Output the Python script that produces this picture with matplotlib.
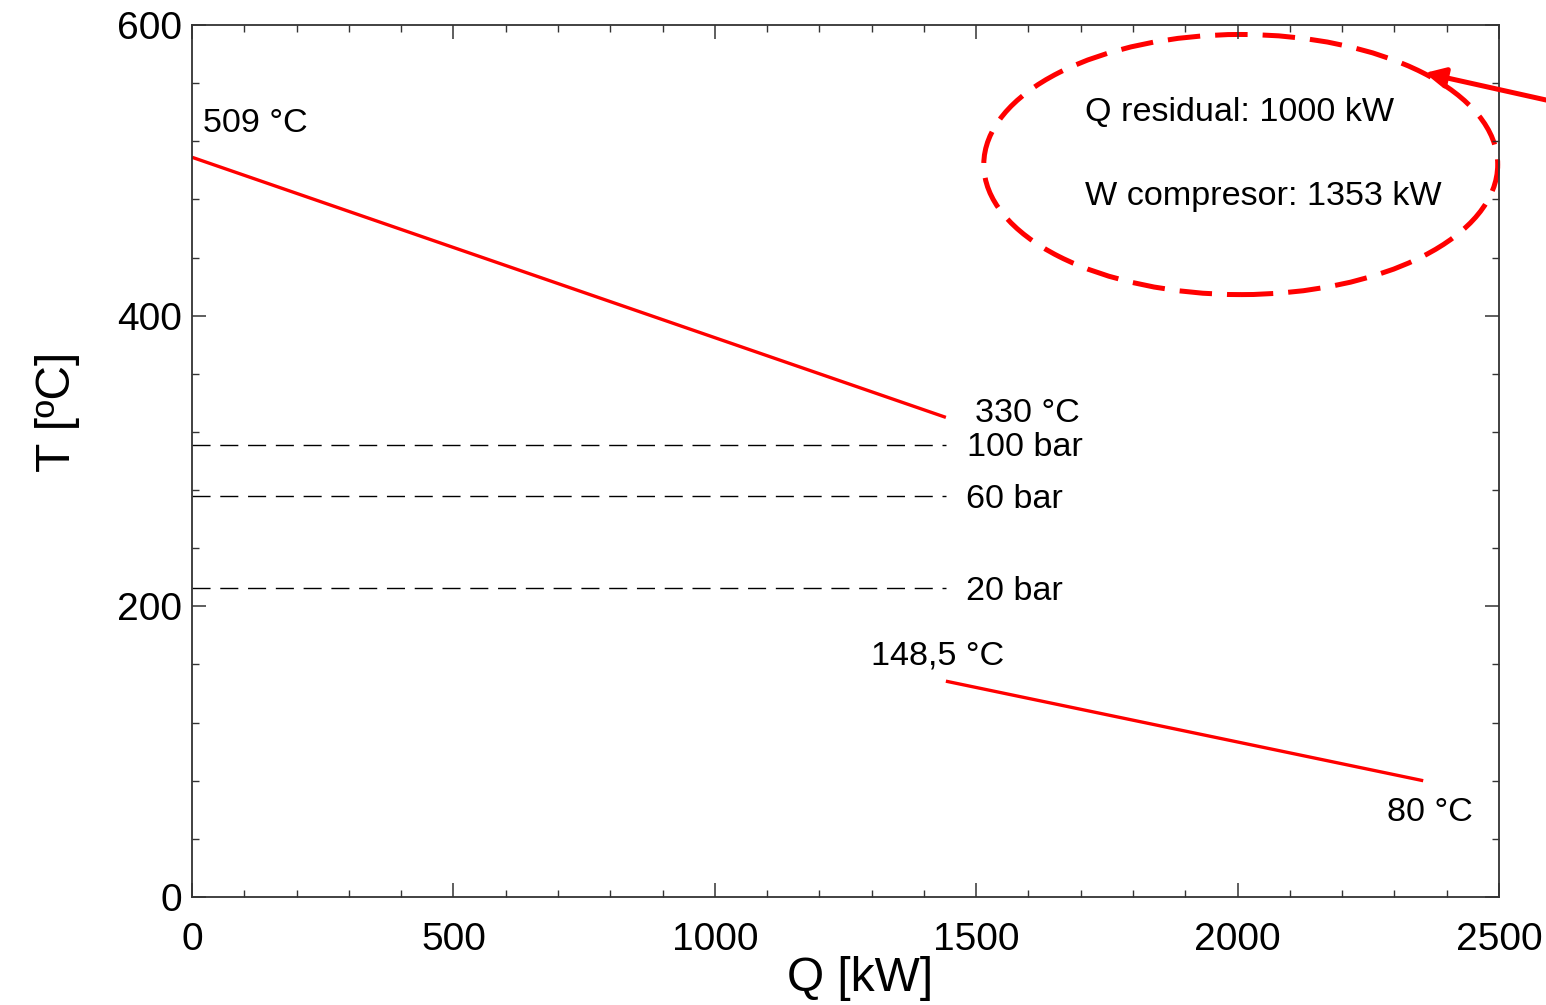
import matplotlib.pyplot as plt
from matplotlib.patches import Ellipse
from matplotlib.ticker import MultipleLocator

plt.rcParams['font.family'] = ['Liberation Sans', 'DejaVu Sans']

# gas cooling line (hot side) and water heating line
q_hot = [0, 1442]
t_hot = [509, 330]
q_cold = [1442, 2355]
t_cold = [148.5, 80]

# saturation temperatures at the pressure levels
sat_labels = ['100 bar', '60 bar', '20 bar']
sat_temps = [311, 275.6, 212.4]
sat_q_end = 1442

fig = plt.figure(figsize=(15.46, 10.05), dpi=100)
ax = fig.add_axes([0.1242, 0.1075, 0.8454, 0.8676])

ax.plot(q_hot, t_hot, color='red', lw=2.4, solid_capstyle='butt')
ax.plot(q_cold, t_cold, color='red', lw=2.4, solid_capstyle='butt')
for t in sat_temps:
    ax.plot([0, sat_q_end], [t, t], color='black', lw=1.0, dashes=(13, 7))

fs = 24.6
ax.text(21, 532, '509 °C', fontsize=fs, va='center')
ax.text(1498, 333, '330 °C', fontsize=fs, va='center')
for lab, t in zip(sat_labels, sat_temps):
    ax.text(1482 if lab == '100 bar' else 1480, t - 2, lab, fontsize=fs, va='center')
ax.text(1299, 166, '148,5 °C', fontsize=fs, va='center')
ax.text(2286, 58, '80 °C', fontsize=fs, va='center')
ax.text(1708, 539.5, 'Q residual: 1000 kW', fontsize=fs, va='center')
ax.text(1708, 482, 'W compresor: 1353 kW', fontsize=fs, va='center')

ell = Ellipse((2006, 504), 983, 179, fill=False, edgecolor='red', lw=3.6,
              linestyle=(0, (6.5, 3)), clip_on=False)
ax.add_patch(ell)
ax.annotate('', xy=(2358, 567), xytext=(2650, 543.6), annotation_clip=False,
            arrowprops=dict(arrowstyle='-|>', color='red', lw=3.6,
                            mutation_scale=30, shrinkA=0, shrinkB=0))

ax.set_xlim(0, 2500)
ax.set_ylim(0, 600)
ax.xaxis.set_major_locator(MultipleLocator(500))
ax.xaxis.set_minor_locator(MultipleLocator(100))
ax.yaxis.set_major_locator(MultipleLocator(200))
ax.yaxis.set_minor_locator(MultipleLocator(40))
ax.tick_params(which='both', direction='in', top=True, right=True,
               labelsize=28, color='#333333')
ax.tick_params(which='major', length=10, width=1.1)
ax.tick_params(axis='x', which='major', pad=18)
ax.tick_params(axis='y', which='major', pad=7)
ax.tick_params(which='minor', length=5, width=1.0)
for s in ax.spines.values():
    s.set_color('#333333')
    s.set_linewidth(1.3)

ax.set_xlabel('Q [kW]', fontsize=34.5)
ax.set_ylabel('T [ºC]', fontsize=34.5)
ax.xaxis.set_label_coords(0.511, -0.068)
ax.yaxis.set_label_coords(-0.0857, 0.556)

fig.savefig('out.png', dpi=100)
